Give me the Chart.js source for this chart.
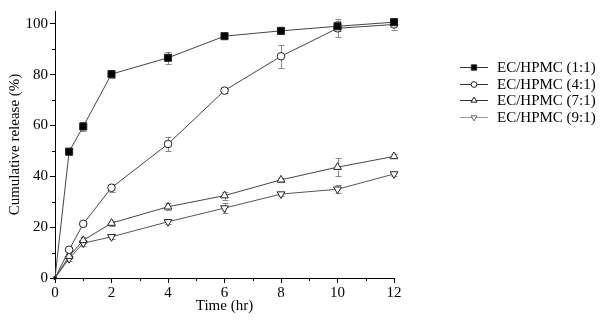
<!DOCTYPE html>
<html>
<head>
<meta charset="utf-8">
<script src="https://cdn.jsdelivr.net/npm/chart.js@4.4.0/dist/chart.umd.min.js"></script>
<style>
  html, body { margin: 0; padding: 0; background: #fff; }
  #wrap { width: 600px; height: 327px; }
</style>
</head>
<body>
<div id="wrap"><canvas id="myChart"></canvas></div>
<script>
// temps en heures
const temps = [0, 0.5, 1, 2, 4, 6, 8, 10, 12]

const libelles = ['EC/HPMC (1:1)', 'EC/HPMC (4:1)', 'EC/HPMC (7:1)', 'EC/HPMC (9:1)']

// liberation cumulee (%)
const serie11 = [0, 49.7, 59.6, 80.2, 86.6, 95.1, 97.2, 99.0, 100.6]
const serie41 = [0, 11.1, 21.3, 35.5, 52.7, 73.7, 87.2, 98.2, 99.7]
const serie71 = [0, 8.6, 14.8, 21.6, 28.0, 32.4, 38.6, 43.6, 47.8]
const serie91 = [0, 7.6, 13.7, 16.2, 22.1, 27.5, 33.0, 34.9, 40.9]

// barres d'erreur (+/-)
const err11 = [0, 1.5, 1.8, 1.6, 2.4, 0.8, 0.8, 2.0, 1.5]
const err41 = [0, 1.0, 0.8, 1.6, 2.8, 0.8, 4.5, 3.6, 2.0]
const err71 = [0, 1.0, 1.2, 1.0, 1.3, 1.6, 0.8, 3.5, 0.8]
const err91 = [0, 1.0, 1.2, 0.8, 1.0, 2.0, 0.8, 1.6, 0.8]

const styles = [
    { pointStyle: 'rect', radius: 5, rotation: 0, fill: '#000', line: '#444' },
    { pointStyle: 'circle', radius: 3.8, rotation: 0, fill: '#fff', line: '#444' },
    { pointStyle: 'triangle', radius: 4.5, rotation: 0, fill: '#fff', line: '#444' },
    { pointStyle: 'triangle', radius: 4.5, rotation: 180, fill: '#fff', line: '#555' }
]

const series = [serie11, serie41, serie71, serie91]
const erreurs = [err11, err41, err71, err91]

const police = '"Liberation Serif", "Times New Roman", serif'

const datasets = series.map((valeurs, i) => {
    return {
        label: libelles[i],
        data: valeurs.map((v, j) => ({ x: temps[j], y: v })),
        erreurs: erreurs[i],
        borderColor: styles[i].line,
        borderWidth: 1,
        backgroundColor: styles[i].fill,
        pointBackgroundColor: styles[i].fill,
        pointBorderColor: '#222',
        pointBorderWidth: 1,
        pointStyle: styles[i].pointStyle,
        pointRadius: (c) => c.dataIndex === 0 ? 1.5 : styles[i].radius,
        pointRotation: styles[i].rotation,
        tension: 0,
        clip: false
    }
})

// barres d'erreur
const barresErreur = {
    id: 'barresErreur',
    beforeDatasetsDraw(chart) {
        const ctx = chart.ctx
        const y = chart.scales.y
        ctx.save()
        ctx.strokeStyle = '#888'
        ctx.lineWidth = 1
        chart.data.datasets.forEach((ds, i) => {
            const meta = chart.getDatasetMeta(i)
            meta.data.forEach((pt, j) => {
                const e = ds.erreurs[j]
                if (!e) return
                const v = ds.data[j].y
                const x = Math.round(pt.x) + 0.5
                const haut = y.getPixelForValue(v + e)
                const bas = y.getPixelForValue(v - e)
                ctx.beginPath()
                ctx.moveTo(x, haut); ctx.lineTo(x, bas)
                ctx.moveTo(x - 3, Math.round(haut) + 0.5); ctx.lineTo(x + 3, Math.round(haut) + 0.5)
                ctx.moveTo(x - 3, Math.round(bas) + 0.5); ctx.lineTo(x + 3, Math.round(bas) + 0.5)
                ctx.stroke()
            })
        })
        ctx.restore()
    }
}

// petites graduations
const graduations = {
    id: 'graduations',
    afterDraw(chart) {
        const ctx = chart.ctx
        const sx = chart.scales.x
        const sy = chart.scales.y
        ctx.save()
        ctx.strokeStyle = '#000'
        ctx.lineWidth = 1
        ctx.beginPath()
        for (let t = 1; t < 12; t += 2) {
            const px = Math.round(sx.getPixelForValue(t)) + 0.5
            ctx.moveTo(px, sy.bottom); ctx.lineTo(px, sy.bottom + 3)
        }
        for (let v = 10; v < 105; v += 20) {
            const py = Math.round(sy.getPixelForValue(v)) + 0.5
            ctx.moveTo(sx.left, py); ctx.lineTo(sx.left - 3, py)
        }
        ctx.stroke()
        ctx.restore()
    }
}

// legende a droite
const legende = {
    id: 'legende',
    afterDraw(chart) {
        const ctx = chart.ctx
        ctx.save()
        chart.data.datasets.forEach((ds, i) => {
            const yy = 67 + i * 16.7
            ctx.strokeStyle = i === 3 ? '#999' : '#333'
            ctx.lineWidth = 1
            ctx.beginPath()
            ctx.moveTo(460, Math.round(yy) + 0.5); ctx.lineTo(488, Math.round(yy) + 0.5)
            ctx.stroke()
            ctx.fillStyle = styles[i].fill
            ctx.strokeStyle = i === 3 ? '#666' : '#222'
            Chart.helpers.drawPoint(ctx, {
                pointStyle: styles[i].pointStyle,
                radius: styles[i].radius * 0.75,
                rotation: styles[i].rotation,
                borderWidth: 1
            }, 474, Math.round(yy) + 0.5)
            ctx.fillStyle = '#000'
            ctx.font = '15px ' + police
            ctx.textBaseline = 'middle'
            ctx.fillText(ds.label, 497, Math.round(yy) + 1)
        })
        ctx.restore()
    }
}

const config = {
    type: 'line',
    data: { datasets: datasets },
    options: {
        responsive: true,
        maintainAspectRatio: false,
        animation: false,
        layout: { padding: { top: 5, right: 206, left: 0, bottom: 0 } },
        plugins: { legend: { display: false }, tooltip: { enabled: false } },
        scales: {
            x: {
                type: 'linear',
                min: 0,
                max: 12,
                afterFit: (scale) => { scale.height = 49 },
                border: { color: '#000', width: 1 },
                grid: { drawOnChartArea: false, drawTicks: true, tickLength: 5, color: '#000' },
                ticks: { stepSize: 2, color: '#000', padding: 1, maxRotation: 0, font: { family: police, size: 15 } },
                title: { display: true, text: 'Time (hr)', color: '#000', padding: { top: 0, bottom: 12 }, font: { family: police, size: 15 } }
            },
            y: {
                min: 0,
                max: 105,
                afterFit: (scale) => { scale.width = 55 },
                border: { color: '#000', width: 1 },
                grid: { drawOnChartArea: false, drawTicks: true, tickLength: 5, color: '#000' },
                ticks: { stepSize: 20, includeBounds: false, color: '#000', padding: 2, font: { family: police, size: 15 } },
                title: { display: true, text: 'Cumulative release (%)', color: '#000', padding: { top: 6, bottom: 0 }, font: { family: police, size: 15 } }
            }
        }
    },
    plugins: [barresErreur, graduations, legende]
}

const ctx = document.getElementById('myChart')

new Chart(ctx, config)
</script>
</body>
</html>
